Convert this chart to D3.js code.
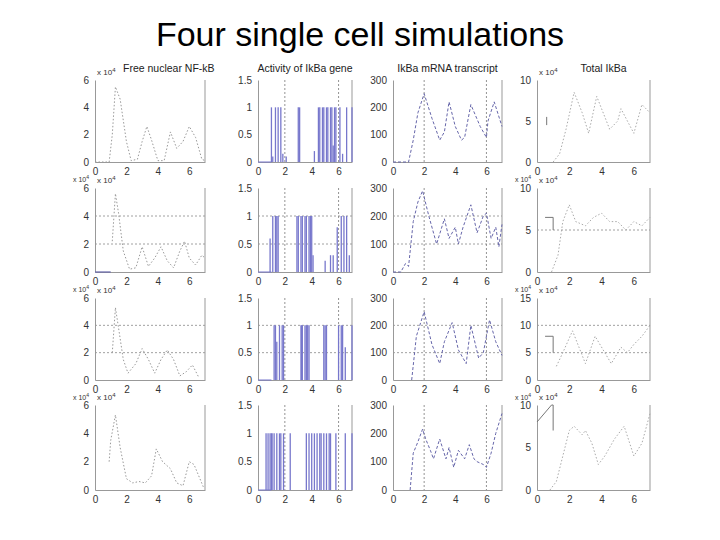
<!DOCTYPE html>
<html><head><meta charset="utf-8">
<script src="https://cdn.jsdelivr.net/npm/d3@7"></script>
<style>body{margin:0;background:#fff}svg{font-family:"Liberation Sans",Arial,sans-serif}</style>
</head><body><svg id="c" width="720" height="540"></svg>
<script>
const titles=["Free nuclear NF-kB","Activity of IkBa gene","IkBa mRNA transcript","Total IkBa"];
const xTicks=[0,2,4,6];
const yTicks=[[0,2,4,6],[0,0.5,1,1.5],[0,100,200,300],[0,5,10]];
const yTicksTotal3=[0,5,10,15];
const nfkb=[
 [[0,0],[0.9,0],[1.1,2],[1.3,5.5],[1.6,4.6],[2,1.5],[2.3,0.1],[2.7,0.2],[3,1.5],[3.3,2.6],[3.6,1.6],[4,0.1],[4.4,0.1],[4.8,2.2],[5.2,1],[5.6,1.5],[6,2.6],[6.4,1.8],[6.8,0.2],[7,0.1]],
 [[1.1,2.2],[1.3,5.6],[1.5,4.2],[1.8,1.5],[2.2,0.2],[2.6,0.3],[3,1.8],[3.4,0.4],[3.8,1],[4.2,1.8],[4.6,0.8],[5,0.3],[5.4,1.5],[5.7,2.2],[6,1],[6.4,0.5],[6.8,1.2],[7,1]],
 [[1.1,2],[1.3,5.3],[1.5,3.8],[1.8,1.5],[2.1,0.5],[2.6,1.2],[3,2.3],[3.4,1.5],[3.8,0.5],[4.2,1.5],[4.6,2.2],[5,1.5],[5.4,0.3],[5.8,0.6],[6.2,1.1],[6.6,0.2]],
 [[0.9,2],[1,3.5],[1.3,5.3],[1.6,3],[2,0.8],[2.4,0.5],[2.8,0.6],[3.2,0.5],[3.6,1],[3.9,2.9],[4.3,2],[4.8,1.5],[5.2,0.5],[5.6,0.3],[6,2],[6.3,1.8],[6.6,1],[6.9,0.2]]
];
const nfkbStart=[null,[[0,0],[1,0]],null,null];
const gene=[
 [[1.0,1],[1.1,0.1],[1.3,1],[1.5,1],[1.7,1],[1.85,0.15],[2.1,0.1],[3.0,1],[3.1,1],[4.2,0.2],[4.5,1],[4.6,1],[4.8,1],[4.9,1],[5.1,1],[5.2,1],[5.4,1],[5.5,1],[5.6,0.3],[5.7,1],[5.8,1],[6.1,1],[6.3,0.15],[6.6,1],[7.0,1]],
 [[0.9,0.6],[1.1,1],[1.3,1],[1.4,1],[1.5,1],[2.9,1],[3.0,1],[3.2,1],[3.3,1],[3.5,1],[3.6,1],[3.8,1],[3.9,1],[4.0,1],[4.1,0.3],[5.0,0.2],[5.4,0.3],[5.6,0.3],[5.9,0.8],[6.2,1],[6.4,1],[6.6,1],[6.8,0.3]],
 [[1.2,1],[1.3,1],[1.4,0.7],[1.6,1],[1.8,1],[1.9,1],[3.2,1],[3.25,1],[3.3,1],[3.5,1],[3.6,1],[3.7,1],[3.8,1],[4.9,1],[5.0,1],[5.1,1],[6.0,1],[6.2,1],[6.3,1],[6.5,0.6],[7.0,1]],
 [[0.6,1],[0.75,1],[0.9,1],[1.0,1],[1.05,1],[1.2,1],[1.4,1],[1.6,1],[1.7,1],[1.9,1],[2.4,1],[3.6,1],[3.8,1],[4.0,1],[4.2,1],[4.4,1],[4.6,1],[4.7,1],[4.9,1],[5.1,1],[5.3,1],[5.4,1],[5.8,1],[6.5,1],[7.0,1]]
];
const mrna=[
 [[0,0],[1,0],[1.3,80],[1.6,180],[2,250],[2.5,160],[3,80],[3.3,110],[3.6,220],[4,130],[4.4,80],[4.6,90],[5,210],[5.3,170],[5.6,130],[6,90],[6.1,150],[6.5,220],[7,130]],
 [[0,0],[0.5,0],[0.8,30],[1,20],[1.3,180],[1.6,250],[1.9,290],[2.3,200],[2.8,100],[3.3,190],[3.6,120],[4,160],[4.2,100],[4.5,160],[5,240],[5.4,140],[5.8,200],[6,210],[6.3,120],[6.6,160],[6.8,90],[7,170]],
 [[1.2,0],[1.5,160],[2,250],[2.5,130],[3,60],[3.3,140],[3.8,210],[4.2,110],[4.7,60],[5,200],[5.5,80],[5.8,100],[6.2,220],[6.6,140],[7,90]],
 [[1.1,0],[1.3,130],[1.6,170],[1.9,215],[2.1,180],[2.4,140],[2.6,110],[3,180],[3.4,110],[3.6,150],[3.9,80],[4.2,140],[4.6,110],[4.9,160],[5.2,110],[5.4,100],[5.8,90],[6,80],[6.3,130],[6.6,200],[7,270]]
];
const total=[
 [[1,0],[1.4,1],[1.8,4],[2.3,8.5],[2.8,6],[3.2,3.5],[3.7,8],[4,6.5],[4.5,4],[5,5],[5.2,6.5],[5.6,5],[6,3.5],[6.5,7],[7,6]],
 [[0.9,0],[1.3,2],[1.6,6],[2,8],[2.4,6],[3,5.5],[3.5,6.5],[4,7],[4.5,6],[5,6],[5.5,5],[6,6],[6.5,5.5],[7,6.5]],
 [[1.2,2.5],[1.6,5],[2.2,9],[2.6,6],[3,3],[3.6,8],[4.2,5],[4.6,3],[5.2,6],[5.6,5],[6,6.5],[6.5,8],[7,10]],
 [[0.8,0],[1.2,1],[1.6,4],[2,7],[2.3,7.5],[2.8,6.5],[3,7],[3.4,5.5],[3.8,3],[4.2,4],[4.8,6],[5.4,7.5],[6,4],[6.5,5.5],[7,9]]
];
const totalSolid=[[[0.6,4.5],[0.6,5.5]],[[0.5,6.5],[1,6.5],[1,5]],[[0.5,8],[1,8],[1,5]],[[0,8],[0.9,10],[1,10],[1,7]]];
const totalMax=[10,10,15,10];

const svg=d3.select("#c");
svg.append("text").attr("x",360).attr("y",46).attr("text-anchor","middle").attr("font-size",34).attr("fill","#000").text("Four single cell simulations");
const colX=[[95,205],[258,352],[393,502],[537,650]];
const rowY=[[80,162],[188,272],[298,380],[405,490]];
const gridRows=[1,2];
for(let r=0;r<4;r++)for(let c=0;c<4;c++){
  const [x0,x1]=colX[c],[y0,y1]=rowY[r];
  const x=d3.scaleLinear().domain([0,7]).range([x0,x1]);
  const yt=c===3&&r===2?yTicksTotal3:yTicks[c];
  const ymax=c===3?totalMax[r]:yt[yt.length-1];
  const y=d3.scaleLinear().domain([0,ymax]).range([y1,y0]);
  const g=svg.append("g");
  if(gridRows.includes(r)) yt.slice(1,-1).forEach(v=>g.append("line").attr("x1",x0).attr("x2",x1).attr("y1",y(v)).attr("y2",y(v)).attr("stroke","#888").attr("stroke-dasharray","2,2").attr("stroke-width",0.8));
  if(c===1||c===2) [2,6].forEach(v=>g.append("line").attr("x1",x(v)).attr("x2",x(v)).attr("y1",y0).attr("y2",y1).attr("stroke","#777").attr("stroke-dasharray","2,2").attr("stroke-width",0.8));
  const fmt=d3.format("~g");
  const ax=g.append("g").attr("transform",`translate(0,${y1})`).call(d3.axisBottom(x).tickValues(xTicks).tickSize(0).tickPadding(6).tickFormat(fmt));
  const ay=g.append("g").attr("transform",`translate(${x0},0)`).call(d3.axisLeft(y).tickValues(yt).tickSize(0).tickPadding(6).tickFormat(fmt));
  [ax,ay].forEach(a=>{a.select(".domain").attr("stroke","#999");a.selectAll("text").attr("font-size",10).attr("fill","#333");});
  g.append("line").attr("x1",x1).attr("x2",x1).attr("y1",y0).attr("y2",y1).attr("stroke","#999");
  const line=d3.line().x(d=>x(d[0])).y(d=>y(d[1]));
  if(c===0){
    if(nfkbStart[r]) g.append("path").attr("d",line(nfkbStart[r])).attr("fill","none").attr("stroke","#6666aa").attr("stroke-width",1.2);
    g.append("path").attr("d",line(nfkb[r])).attr("fill","none").attr("stroke","#999").attr("stroke-dasharray","1.5,2").attr("stroke-width",1);
  } else if(c===1){
    g.selectAll(null).data(gene[r]).join("line").attr("x1",d=>x(d[0])).attr("x2",d=>x(d[0])).attr("y1",y(0)).attr("y2",d=>y(d[1])).attr("stroke","#7777cc").attr("stroke-width",1.3);
    g.append("line").attr("x1",x0).attr("x2",x(1)).attr("y1",y(0)).attr("y2",y(0)).attr("stroke","#7777cc");
  } else if(c===2){
    g.append("path").attr("d",line(mrna[r])).attr("fill","none").attr("stroke","#6666aa").attr("stroke-dasharray","3,2").attr("stroke-width",1);
  } else {
    g.append("path").attr("d",line(totalSolid[r])).attr("fill","none").attr("stroke","#777").attr("stroke-width",1);
    g.append("path").attr("d",line(total[r])).attr("fill","none").attr("stroke","#aaa").attr("stroke-dasharray","1.5,2").attr("stroke-width",1);
  }
  if(c===0||c===3){
    const t=g.append("text").attr("x",x0+2).attr("y",y0-5).attr("font-size",8).attr("fill","#333").text("x 10");
    t.append("tspan").attr("dy",-3).attr("font-size",6).text("4");
    if(r<3){const t2=g.append("text").attr("x",x0-6).attr("y",y1+20).attr("text-anchor","end").attr("font-size",7).attr("fill","#333").text("x 10");
    t2.append("tspan").attr("dy",-3).attr("font-size",5).text("4");}
  }
  if(r===0) g.append("text").attr("x",c===0?x0+28:(x0+x1)/2+(c===3?10:0)).attr("y",y0-8).attr("text-anchor",c===0?"start":"middle").attr("font-size",10.5).attr("fill","#222").text(titles[c]);
}
</script></body></html>
